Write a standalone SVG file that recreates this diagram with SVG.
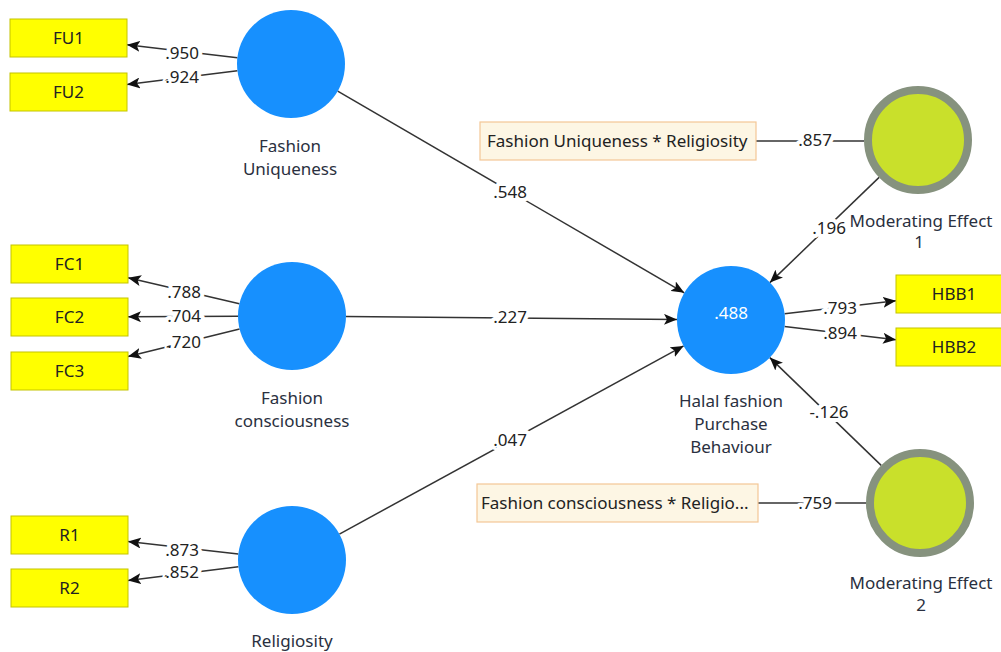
<svg xmlns="http://www.w3.org/2000/svg" width="1001" height="652" viewBox="0 0 1001 652">
<defs>
<marker id="ah" viewBox="0 0 13 11" refX="13" refY="5.5" markerWidth="13" markerHeight="11" markerUnits="userSpaceOnUse" orient="auto">
<path d="M0,0 L13,5.5 L0,11 L3,5.5 Z" fill="#111"/>
</marker>
<style>
.lat{fill:#1790fe}
.mod{fill:#c9e02b;stroke:#86927e;stroke-width:8}
.ind{fill:#ffff00;stroke:#c4c400;stroke-width:1}
.inter{fill:#fdf6e4;stroke:#f3c796;stroke-width:1.2}
.t{font-family:"Noto Sans","Open Sans","DejaVu Sans",sans-serif;font-size:17px;fill:#222;text-anchor:middle}
.nl{font-family:"Noto Sans","Open Sans","DejaVu Sans",sans-serif;font-size:17px;fill:#2a3040;text-anchor:middle}
.e{stroke:#333;stroke-width:1.5;fill:none}
.ea{stroke:#333;stroke-width:1.5;fill:none;marker-end:url(#ah)}
.lbl{font-family:"Noto Sans","Open Sans","DejaVu Sans",sans-serif;font-size:17px;fill:#222;text-anchor:middle;stroke:#fff;stroke-width:8;stroke-linejoin:round;paint-order:stroke}
</style>
</defs>
<rect width="1001" height="652" fill="#fff"/>

<g id="connectors">
<line class="ea" x1="237.4" y1="57.7" x2="127" y2="44.8"/>
<line class="ea" x1="237.4" y1="70.7" x2="127" y2="84.6"/>
<line class="ea" x1="239.4" y1="303.7" x2="128" y2="277.7"/>
<line class="ea" x1="238" y1="316.2" x2="128" y2="316.8"/>
<line class="ea" x1="239.6" y1="329" x2="128" y2="356.5"/>
<line class="ea" x1="238.3" y1="554" x2="128" y2="541.6"/>
<line class="ea" x1="238.4" y1="566.7" x2="128" y2="580.4"/>
<line class="ea" x1="784.6" y1="313.8" x2="896" y2="300.8"/>
<line class="ea" x1="784.6" y1="326.5" x2="896" y2="339.8"/>
<line class="ea" x1="337.7" y1="91.2" x2="684.3" y2="292.8"/>
<line class="ea" x1="346" y1="316.5" x2="677" y2="319.5"/>
<line class="ea" x1="339.4" y1="534.1" x2="683.6" y2="345.9"/>
<line class="ea" x1="879.1" y1="177.4" x2="769.9" y2="282.6"/>
<line class="ea" x1="881.2" y1="465.4" x2="769.8" y2="357.6"/>
<line class="e" x1="756" y1="141" x2="864" y2="141"/>
<line class="e" x1="758" y1="503" x2="866" y2="503"/>
<text class="lbl" x="182" y="59">.950</text>
<text class="lbl" x="182" y="83">.924</text>
<text class="lbl" x="184" y="298">.788</text>
<text class="lbl" x="184" y="322">.704</text>
<text class="lbl" x="184" y="348">.720</text>
<text class="lbl" x="182" y="556">.873</text>
<text class="lbl" x="182" y="578">.852</text>
<text class="lbl" x="510" y="198">.548</text>
<text class="lbl" x="510" y="323">.227</text>
<text class="lbl" x="510" y="446">.047</text>
<text class="lbl" x="815" y="146">.857</text>
<text class="lbl" x="829" y="234">.196</text>
<text class="lbl" x="840" y="314">.793</text>
<text class="lbl" x="840" y="339">.894</text>
<text class="lbl" x="829" y="418">-.126</text>
<text class="lbl" x="815" y="509">.759</text>
</g>

<g id="FU1"><rect class="ind" x="10" y="19" width="117" height="38"/><text class="t" x="68.5" y="44">FU1</text></g>
<g id="FU2"><rect class="ind" x="10" y="73" width="117" height="38"/><text class="t" x="68.5" y="98">FU2</text></g>
<g id="FC1"><rect class="ind" x="11" y="245" width="117" height="38"/><text class="t" x="69.5" y="270">FC1</text></g>
<g id="FC2"><rect class="ind" x="11" y="298" width="117" height="38"/><text class="t" x="69.5" y="323">FC2</text></g>
<g id="FC3"><rect class="ind" x="11" y="352" width="117" height="38"/><text class="t" x="69.5" y="377">FC3</text></g>
<g id="R1"><rect class="ind" x="11" y="516" width="117" height="38"/><text class="t" x="69.5" y="541">R1</text></g>
<g id="R2"><rect class="ind" x="11" y="569" width="117" height="38"/><text class="t" x="69.5" y="594">R2</text></g>
<g id="HBB1"><rect class="ind" x="896" y="275" width="117" height="38"/><text class="t" x="954" y="300">HBB1</text></g>
<g id="HBB2"><rect class="ind" x="896" y="328" width="117" height="38"/><text class="t" x="954" y="353">HBB2</text></g>

<g id="FashionUniqueness"><circle class="lat" cx="291" cy="64" r="54"/><text class="nl" x="290" y="152">Fashion</text><text class="nl" x="290" y="175">Uniqueness</text></g>
<g id="FashionConsciousness"><circle class="lat" cx="292" cy="316" r="54"/><text class="nl" x="292" y="404">Fashion</text><text class="nl" x="292" y="427">consciousness</text></g>
<g id="Religiosity"><circle class="lat" cx="292" cy="560" r="54"/><text class="nl" x="292" y="647">Religiosity</text></g>
<g id="HalalFashion"><circle class="lat" cx="731" cy="320" r="54"/><text class="t" x="731" y="319" style="fill:#fff">.488</text><text class="nl" x="731" y="407">Halal fashion</text><text class="nl" x="731" y="430">Purchase</text><text class="nl" x="731" y="453">Behaviour</text></g>
<g id="ModeratingEffect1"><circle class="mod" cx="918" cy="140" r="50"/><text class="nl" x="921" y="227">Moderating Effect</text><text class="nl" x="919" y="248">1</text></g>
<g id="ModeratingEffect2"><circle class="mod" cx="920" cy="503" r="50"/><text class="nl" x="921" y="589">Moderating Effect</text><text class="nl" x="921" y="611">2</text></g>
<g id="FUxR"><rect class="inter" x="480" y="122" width="276" height="38"/><text class="t" x="487" y="147" style="text-anchor:start">Fashion Uniqueness * Religiosity</text></g>
<g id="FCxR"><rect class="inter" x="477" y="484" width="281" height="38"/><text class="t" x="481" y="509" style="text-anchor:start">Fashion consciousness * Religio...</text></g>
</svg>
